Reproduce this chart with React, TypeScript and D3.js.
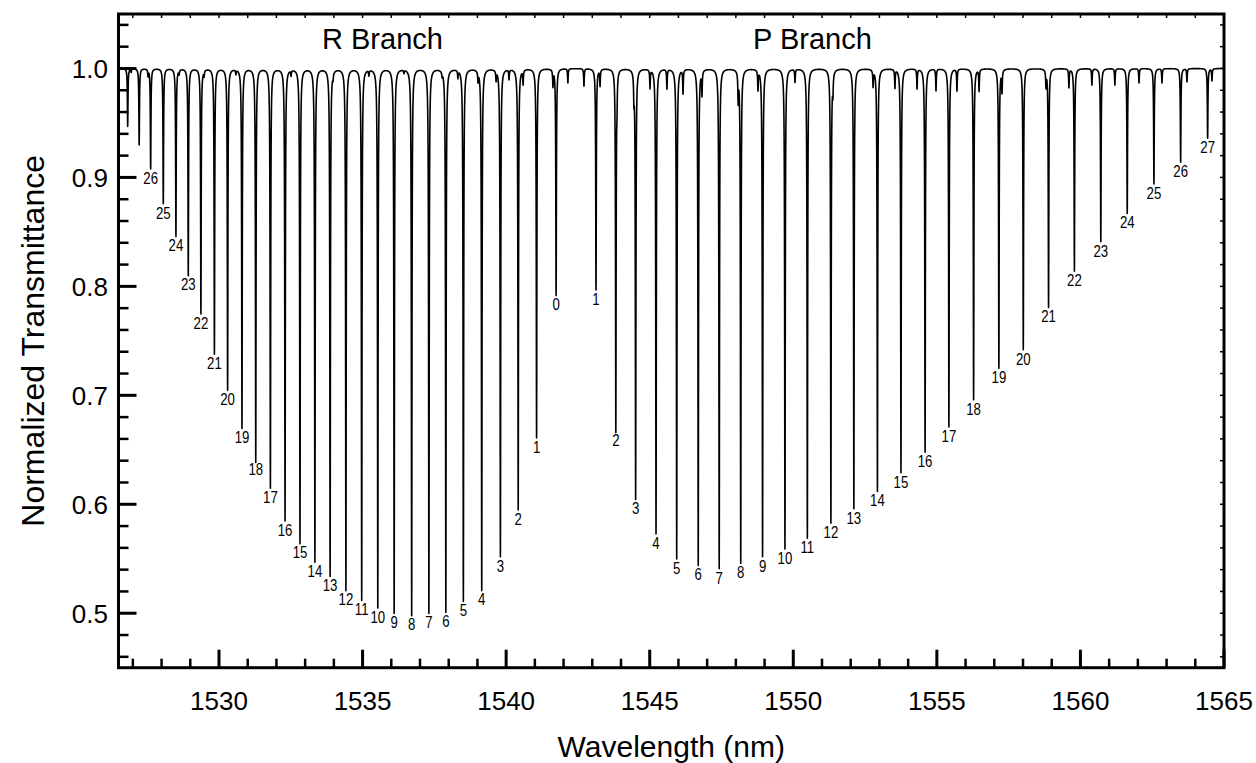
import React from 'react';
import * as d3 from 'd3';

// R branch lines, J = 0..28 (centre wavelength in nm, transmittance at line centre)
const rNm = [1541.74, 1541.06, 1540.42, 1539.80, 1539.15, 1538.51, 1537.90, 1537.31, 1536.71, 1536.10,
  1535.53, 1534.97, 1534.42, 1533.87, 1533.34, 1532.82, 1532.30, 1531.79, 1531.28, 1530.80,
  1530.30, 1529.84, 1529.37, 1528.93, 1528.50, 1528.06, 1527.62, 1527.22, 1526.82];
const rMin = [0.792, 0.661, 0.595, 0.552, 0.521, 0.511, 0.501, 0.500, 0.498, 0.500,
  0.505, 0.512, 0.521, 0.534, 0.547, 0.564, 0.585, 0.615, 0.641, 0.670,
  0.705, 0.738, 0.775, 0.810, 0.846, 0.876, 0.908, 0.930, 0.947];
const rLabels = ['0', '1', '2', '3', '4', '5', '6', '7', '8', '9', '10', '11', '12', '13', '14', '15',
  '16', '17', '18', '19', '20', '21', '22', '23', '24', '25', '26', '', ''];

// P branch lines, J = 1..27
const pNm = [1543.13, 1543.82, 1544.51, 1545.22, 1545.94, 1546.69, 1547.42, 1548.17, 1548.93, 1549.71,
  1550.49, 1551.31, 1552.11, 1552.93, 1553.75, 1554.59, 1555.42, 1556.28, 1557.16, 1558.01,
  1558.89, 1559.79, 1560.71, 1561.63, 1562.56, 1563.49, 1564.43];
const pMin = [0.797, 0.667, 0.605, 0.573, 0.550, 0.544, 0.541, 0.546, 0.552, 0.559,
  0.569, 0.583, 0.596, 0.612, 0.629, 0.648, 0.671, 0.696, 0.725, 0.742,
  0.781, 0.814, 0.841, 0.867, 0.894, 0.914, 0.936];
const pLabels = ['1', '2', '3', '4', '5', '6', '7', '8', '9', '10', '11', '12', '13', '14', '15',
  '16', '17', '18', '19', '20', '21', '22', '23', '24', '25', '26', '27'];

// weak (hot band) lines near the top
const weakNm = [1526.94, 1527.53, 1528.61, 1529.48, 1530.59, 1531.29, 1532.51, 1533.97, 1535.22, 1536.44,
  1537.77, 1538.32, 1539.02, 1539.65, 1540.10, 1540.59, 1541.63, 1542.15, 1542.71, 1543.27,
  1543.86, 1544.45, 1545.01, 1545.60, 1546.16, 1546.82, 1548.08, 1548.77, 1550.06, 1551.38,
  1552.78, 1553.54, 1554.31, 1554.97, 1555.70, 1556.47, 1557.27, 1558.80, 1559.60, 1560.40,
  1561.20, 1562.04, 1562.84, 1563.71, 1564.58];
const weakMin = [0.997, 0.994, 0.996, 0.995, 0.996, 0.994, 0.995, 0.995, 0.995, 0.997,
  0.996, 0.993, 0.991, 0.991, 0.991, 0.987, 0.985, 0.987, 0.984, 0.985,
  0.980, 0.978, 0.983, 0.982, 0.978, 0.978, 0.974, 0.982, 0.988, 0.983,
  0.985, 0.983, 0.982, 0.980, 0.980, 0.980, 0.980, 0.985, 0.983, 0.985,
  0.985, 0.987, 0.987, 0.988, 0.989];

const xMajor = [1530, 1535, 1540, 1545, 1550, 1555, 1560, 1565];
const yMajor = [0.5, 0.6, 0.7, 0.8, 0.9, 1.0];
const yTickLabels = ['0.5', '0.6', '0.7', '0.8', '0.9', '1.0'];

const font = "'Liberation Sans', Arial, Helvetica, sans-serif";

const App = () => {
  const left = 118.5, right = 1224, top = 14, bottom = 667.7;

  const x = d3.scaleLinear().domain([1526.5, 1565]).range([left, right]);
  const y = d3.scaleLinear().domain([0.45, 1.05]).range([bottom, top]);

  // all lines together for the spectrum
  let lines = [];
  rNm.forEach((c, i) => lines.push({ c, m: rMin[i] }));
  pNm.forEach((c, i) => lines.push({ c, m: pMin[i] }));
  weakNm.forEach((c, i) => lines.push({ c, m: weakMin[i] }));

  const gamma = 0.012;
  const g2 = gamma * gamma;
  const trans = (l) => {
    let t = 1;
    for (const ln of lines) {
      const d = l - ln.c;
      if (Math.abs(d) > 1.5) continue;
      t *= 1 - (1 - ln.m) * g2 / (d * d + g2);
    }
    return t;
  };

  let samples = d3.range(1526.5, 1565.0001, 0.002);
  lines.forEach(ln => samples.push(ln.c));
  samples.sort((a, b) => a - b);
  const pts = samples.map(l => [l, trans(l)]);

  const spectrum = d3.line()
    .x(d => x(d[0]))
    .y(d => y(d[1]))(pts);

  const xMinor = d3.range(1527, 1565).filter(v => v % 5 !== 0);
  const yMinor = d3.range(23, 53).filter(i => i % 5 !== 0).map(i => i * 0.02);
  const yRight = d3.range(23, 53).map(i => i * 0.02);
  const xTop = d3.range(1527, 1565);

  const label = (c, m, txt, key) => (
    <text key={key} transform={`translate(${x(c)},${y(m) + 15}) scale(0.8,1)`}
      textAnchor="middle" fontSize={16.5} fontFamily={font} fill="#000">{txt}</text>
  );

  return (
    <svg width={1256} height={763} style={{ position: 'absolute', left: 0, top: 0 }}>
      <rect width={1256} height={763} fill="#fff" />

      <path d={spectrum} fill="none" stroke="#000" strokeWidth={1.6} strokeLinejoin="round" />

      {rNm.map((c, i) => rLabels[i] ? label(c, rMin[i], rLabels[i], 'r' + i) : null)}
      {pNm.map((c, i) => label(c, pMin[i], pLabels[i], 'p' + i))}

      <text x={322} y={48.5} fontSize={29} fontFamily={font}>R Branch</text>
      <text x={753} y={48.5} fontSize={29} fontFamily={font}>P Branch</text>

      {/* frame */}
      <rect x={left} y={top} width={right - left} height={bottom - top} fill="none" stroke="#000" strokeWidth={3} />

      {/* bottom ticks */}
      {xMajor.map(v => (
        <line key={'xm' + v} x1={x(v)} x2={x(v)} y1={bottom} y2={bottom - 18} stroke="#000" strokeWidth={3} />
      ))}
      {xMinor.map(v => (
        <line key={'xn' + v} x1={x(v)} x2={x(v)} y1={bottom} y2={bottom - 9} stroke="#000" strokeWidth={2.5} />
      ))}
      {xTop.map(v => (
        <line key={'xt' + v} x1={x(v)} x2={x(v)} y1={top} y2={top + 4} stroke="#000" strokeWidth={1.5} />
      ))}
      {xMajor.map(v => (
        <text key={'xl' + v} x={x(v)} y={709.5} textAnchor="middle" fontSize={26} fontFamily={font}>{v}</text>
      ))}

      {/* left ticks */}
      {yMajor.map((v, i) => (
        <g key={'ym' + i}>
          <line x1={left} x2={left + 18} y1={y(v)} y2={y(v)} stroke="#000" strokeWidth={3} />
          <text x={108} y={y(v) + 9.3} textAnchor="end" fontSize={26} fontFamily={font}>{yTickLabels[i]}</text>
        </g>
      ))}
      {yMinor.map((v, i) => (
        <line key={'yn' + i} x1={left} x2={left + 10} y1={y(v)} y2={y(v)} stroke="#000" strokeWidth={2.5} />
      ))}
      {yRight.map((v, i) => (
        <line key={'yr' + i} x1={right} x2={right - 4} y1={y(v)} y2={y(v)} stroke="#000" strokeWidth={1.5} />
      ))}

      <text x={(left + right) / 2} y={757} textAnchor="middle" fontSize={30} fontFamily={font}>Wavelength (nm)</text>
      <text transform={`translate(44,${(top + bottom) / 2}) rotate(-90)`} textAnchor="middle" fontSize={32} fontFamily={font}>
        Normalized Transmittance
      </text>
    </svg>
  );
};

export default App;
